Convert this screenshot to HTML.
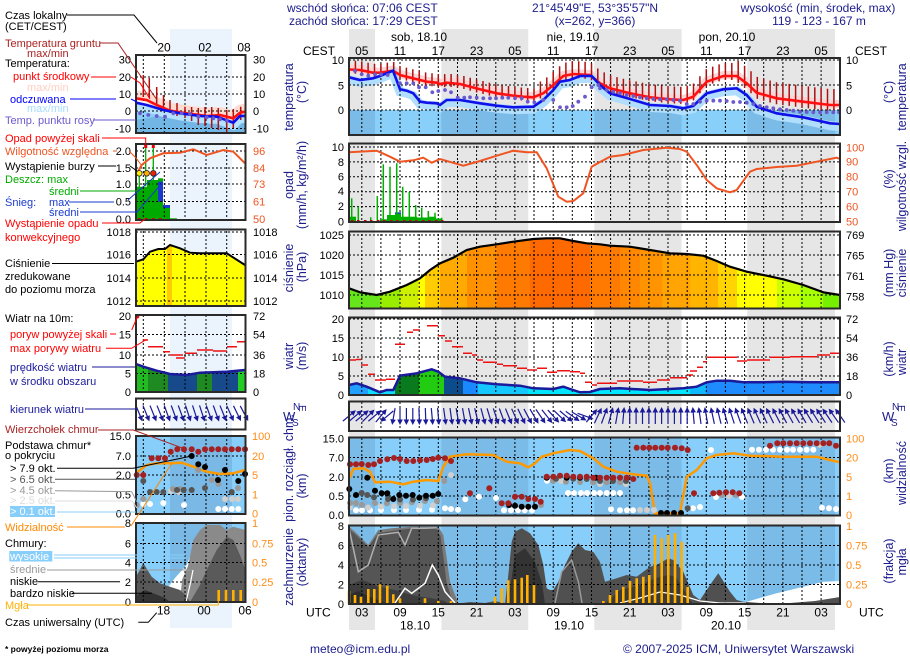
<!DOCTYPE html>
<html><head><meta charset="utf-8">
<style>
html,body{margin:0;padding:0;background:#fff;width:910px;height:660px;overflow:hidden}
svg{display:block}
text{font-family:"Liberation Sans",sans-serif}
.g{fill:none;stroke:#000;stroke-width:1;stroke-dasharray:2 2}
.tk{font-size:11px;fill:#000}
.fr{fill:none;stroke:#2a2a2a;stroke-width:2}
.nv{fill:#1c1c8c}
.lg{font-size:11px}
</style></head>
<body>
<svg xmlns="http://www.w3.org/2000/svg" width="910" height="660" viewBox="0 0 910 660">
<defs>
<clipPath id="cpP"><polygon points="349,288.3 360,292.3 376.7,295 390,291.7 406.7,285 420,278.3 430,270 440,263.3 453.3,257.7 466.7,250 480,246.7 496.7,244.3 513.3,241.7 533.3,239 546.7,238.3 560,238.3 573.3,241 586.7,243.3 600,244.3 610,245.7 630,246.7 650,250 670,253.3 686.7,254 703.3,255.7 716.7,261 730,266.7 746.7,271.7 766.7,275.7 783.3,279.3 803.3,285 823.3,292.3 840,295 840,308.5 349,308.5"/></clipPath>
<clipPath id="cpW"><polygon points="349,385 356.7,383.3 366.7,386.7 380,392.3 386.7,390 393.3,390 400,375.7 416.7,373.3 431.7,369.3 438.3,371.7 445,376.7 460,378.3 476.7,382.3 496.7,384.3 520,385.7 533.3,388.3 553.3,389 563.3,386.7 570,389 580,392.3 590,392 600,389 620,388.3 650,390 683.3,388.3 696.7,386.7 706.7,382.3 716.7,380.7 730,380.7 743.3,382.3 763.3,382.3 783.3,381.7 810,382.3 840,382.3 840,395 349,395"/></clipPath>
<clipPath id="cpMain">
<rect x="349" y="58" width="491" height="77"/><rect x="349" y="143.5" width="491" height="78.5"/><rect x="349" y="231.5" width="491" height="77"/><rect x="349" y="317.5" width="491" height="77.5"/><rect x="349" y="401.5" width="491" height="29.5"/><rect x="349" y="437.5" width="491" height="78"/><rect x="349" y="525.5" width="491" height="78.5"/>
</clipPath>
<clipPath id="cpMini">
<rect x="136" y="55" width="109.5" height="78"/><rect x="136" y="144" width="109.5" height="76"/><rect x="136" y="229.5" width="109.5" height="76.5"/><rect x="136" y="315" width="109.5" height="77"/><rect x="136" y="398.5" width="109.5" height="31"/><rect x="136" y="436" width="109.5" height="78"/><rect x="136" y="523" width="109.5" height="79"/>
</clipPath>
<clipPath id="cpMP"><polygon points="136,261.7 143.3,259.3 150,251.7 158.3,249 165,249 170,245 180,248.3 190,252.7 200,253.3 226.7,253.3 245.5,265 245.5,306 136,306"/></clipPath>
<clipPath id="cpMW"><polygon points="136,364 143.3,366.7 156.7,370.7 170,374 186.7,375 200,372.7 226.7,371.7 245.5,370 245.5,392 136,392"/></clipPath>
<g id="ar"><line x1="-8" y1="0" x2="5" y2="0" stroke="#1a1a9a" stroke-width="1.2"/><polygon points="9,0 3.5,-2.8 3.5,2.8" fill="#1a1a9a"/></g>
</defs>

<!-- night bands -->
<g fill="#e6e6e6">
<rect x="349" y="29" width="26" height="601"/>
<rect x="441.4" y="29" width="86.9" height="601"/>
<rect x="594.3" y="29" width="87.3" height="601"/>
<rect x="747.2" y="29" width="87.8" height="601"/>
</g>
<rect x="170" y="29" width="62" height="599" fill="#ebf3fc"/>

<!-- header -->
<text x="287" y="12" font-size="12" class="nv">wschód słońca: 07:06 CEST</text>
<text x="289" y="25" font-size="12" class="nv">zachód słońca: 17:29 CEST</text>
<text x="595" y="12" font-size="12" class="nv" text-anchor="middle">21°45'49"E, 53°35'57"N</text>
<text x="595" y="25" font-size="12" class="nv" text-anchor="middle">(x=262,  y=366)</text>
<text x="818" y="12" font-size="12" class="nv" text-anchor="middle">wysokość (min, środek, max)</text>
<text x="819" y="25" font-size="12" class="nv" text-anchor="middle">119 - 123 - 167 m</text>

<g font-size="12" text-anchor="middle" fill="#000">
<text x="419" y="41">sob, 18.10</text><text x="573" y="41">nie, 19.10</text><text x="727" y="41">pon, 20.10</text>
<text x="361.8" y="55">05</text><text x="400" y="55">11</text><text x="438.3" y="55">17</text><text x="476.6" y="55">23</text><text x="514.9" y="55">05</text><text x="553.2" y="55">11</text><text x="591.5" y="55">17</text><text x="629.7" y="55">23</text><text x="668" y="55">05</text><text x="706.3" y="55">11</text><text x="744.6" y="55">17</text><text x="782.9" y="55">23</text><text x="821.1" y="55">05</text>
<text x="361.8" y="616.5">03</text><text x="400" y="616.5">09</text><text x="438.3" y="616.5">15</text><text x="476.6" y="616.5">21</text><text x="514.9" y="616.5">03</text><text x="553.2" y="616.5">09</text><text x="591.5" y="616.5">15</text><text x="629.7" y="616.5">21</text><text x="668" y="616.5">03</text><text x="706.3" y="616.5">09</text><text x="744.6" y="616.5">15</text><text x="782.9" y="616.5">21</text><text x="821.1" y="616.5">03</text>
<text x="415" y="629.5">18.10</text><text x="569" y="629.5">19.10</text><text x="726" y="629.5">20.10</text>
</g>
<text x="303" y="55" font-size="12">CEST</text>
<text x="855" y="55" font-size="12">CEST</text>
<text x="306" y="616.5" font-size="12">UTC</text>
<text x="859" y="616.5" font-size="12">UTC</text>

<!-- ===== MAIN FILLS ===== -->
<rect x="349" y="110" width="491" height="25" fill="#88cffa"/>
<g fill="#7abbe8">
<rect x="349" y="110" width="26" height="25"/><rect x="441.4" y="110" width="86.9" height="25"/><rect x="594.3" y="110" width="87.3" height="25"/><rect x="747.2" y="110" width="87.8" height="25"/>
</g>
<polyline transform="translate(0,-1)" points="349,69.5 360,70 373,72.7 380,72.7 393,70.7 400,75 406.7,76.7 420,80 426.7,81.7 436.7,82.7 440,84 446.7,82.7 460,84 480,89.3 496.7,93.3 513.3,95.7 523.3,96.7 533.3,97.3 543.3,93.3 553.3,85 563.3,76 573.3,74 590,75 600,83.3 610,88.3 630,93.3 650,97.3 670,99.3 683.3,100 693.3,96.7 706.7,81.7 723.3,76 736.7,76 746.7,83.3 756.7,92.7 776.7,98.3 803.3,101.7 830,105 840,105" fill="none" stroke="#ffd4d4" stroke-width="8"/>
<polyline transform="translate(0,2.5)" points="349,77.3 360,80 373,78.3 380,76 393,70.7 400,89.3 406.7,90.7 413.3,93.3 420,101.7 426.7,102.7 436.7,103.3 440,105 446.7,100 460,100 480,103.3 496.7,105.7 513.3,107.3 533.3,106.7 543.3,100 553.3,90 560,81.7 570,80 580,76 591.7,76 600,85 610,93.3 630,99 650,105 670,106 683.3,108.3 693.3,106 706.7,93.3 723.3,89.3 736.7,88.3 746.7,95 756.7,106.7 776.7,113.3 803.3,117.3 830,123.3 840,124" fill="none" stroke="#b0defc" stroke-width="9"/>

<g clip-path="url(#cpP)">
<rect x="349" y="230" width="31" height="80" fill="#66e61a"/>
<rect x="380" y="230" width="20" height="80" fill="#99ee00"/>
<rect x="400" y="230" width="18" height="80" fill="#ccf000"/>
<rect x="418" y="230" width="7" height="80" fill="#ffff00"/>
<rect x="425" y="230" width="15" height="80" fill="#ffcc00"/>
<rect x="440" y="230" width="27" height="80" fill="#ffaa00"/>
<rect x="467" y="230" width="30" height="80" fill="#ff9000"/>
<rect x="497" y="230" width="33" height="80" fill="#ff7a00"/>
<rect x="530" y="230" width="60" height="80" fill="#ff6a00"/>
<rect x="590" y="230" width="30" height="80" fill="#ff7a00"/>
<rect x="620" y="230" width="20" height="80" fill="#ff8800"/>
<rect x="640" y="230" width="22" height="80" fill="#ff9400"/>
<rect x="662" y="230" width="28" height="80" fill="#ffa400"/>
<rect x="690" y="230" width="28" height="80" fill="#ffb400"/>
<rect x="718" y="230" width="19" height="80" fill="#ffd400"/>
<rect x="737" y="230" width="40" height="80" fill="#ffff00"/>
<rect x="777" y="230" width="23" height="80" fill="#ccff00"/>
<rect x="800" y="230" width="23" height="80" fill="#a8ff00"/>
<rect x="823" y="230" width="17" height="80" fill="#77f000"/>
</g>

<g clip-path="url(#cpW)">
<rect x="349" y="360" width="19" height="36" fill="#22a0ff"/>
<rect x="368" y="360" width="27" height="36" fill="#11ddff"/>
<rect x="395" y="360" width="24" height="36" fill="#0a7a1e"/>
<rect x="419" y="360" width="25" height="36" fill="#22cc11"/>
<rect x="444" y="360" width="19" height="36" fill="#0d4c8c"/>
<rect x="463" y="360" width="15" height="36" fill="#1a88ff"/>
<rect x="478" y="360" width="50" height="36" fill="#14c8ff"/>
<rect x="528" y="360" width="162" height="36" fill="#00e6ff"/>
<rect x="690" y="360" width="16" height="36" fill="#10b8ff"/>
<rect x="706" y="360" width="134" height="36" fill="#1e8cff"/>
</g>

<rect x="349" y="437.5" width="491" height="78" fill="#87cefa"/>
<g fill="#7abbe8">
<rect x="349" y="437.5" width="26" height="78"/><rect x="441.4" y="437.5" width="86.9" height="78"/><rect x="594.3" y="437.5" width="87.3" height="78"/><rect x="747.2" y="437.5" width="87.8" height="78"/>
</g>

<rect x="349" y="525.5" width="491" height="78.5" fill="#87cefa"/>
<g fill="#7abbe8">
<rect x="349" y="525.5" width="26" height="78.5"/><rect x="441.4" y="525.5" width="86.9" height="78.5"/><rect x="594.3" y="525.5" width="87.3" height="78.5"/><rect x="747.2" y="525.5" width="87.8" height="78.5"/>
</g>
<polygon points="746.7,604 746.7,601.7 776.7,593.3 803.3,586.7 823.3,581.7 840,581 840,604" fill="#fff"/>
<polygon points="349,526.7 355,531.7 368.3,545 378.3,530 391.7,528.3 411.7,526.7 438.3,526.7 443.3,535 446.7,558.3 450,581.7 455,595 459,604 349,604" fill="#7a7a7a"/>
<polygon points="349,529 355,534 368.3,547 378.3,533 391.7,531 411.7,528.5 436,528 440.5,536 443.5,558 446.5,582 451,597 454,604 349,604" fill="#555"/>
<polygon points="349,585 361.7,580 368,582 378.3,586.7 395,590 411.7,595 430,598 445,601 448,604 349,604" fill="#3d3d3d"/>
<polygon points="349,595 358,591 368,596 378,600 388,604 349,604" fill="#2c2c2c"/>
<polygon points="455,604 470,602 485,603 495,601 505,603 508,604" fill="#555"/>
<polygon points="505,604 508.3,575 511.7,541.7 515,531.7 521.7,528.3 530,533.3 538.3,545 543.3,565 546.7,588.3 550,590 553.3,590 558.3,581.7 565,565 571.7,551.7 578.3,543.3 585,550 593.3,551.7 600,562 605,581.7 616.7,578.3 626.7,575 636.7,576.7 650,566.7 656.7,565 668.3,558.3 673.3,560 683.3,571.7 693.3,595 700,600 710,585 718.3,573.3 730,591.7 736.7,600 743.3,601.7 760,603 790,603 815,601 840,597 840,604" fill="#505050"/>
<polygon points="508,604 512,575 515,555 525,548.3 535,561.7 541.7,581.7 545,604" fill="#333"/>
<polygon points="605,604 620,590 640,585 656,578 668,575 676,577 690,600 693,604" fill="#3a3a3a"/>

<!-- ===== MAIN GRID ===== -->
<g clip-path="url(#cpMain)">
<path class="g" d="M361.8 58V604M380.9 58V604M400 58V604M419.2 58V604M438.3 58V604M457.5 58V604M476.6 58V604M495.8 58V604M514.9 58V604M534 58V604M553.2 58V604M572.3 58V604M591.5 58V604M610.6 58V604M629.7 58V604M648.9 58V604M668 58V604M687.2 58V604M706.3 58V604M725.4 58V604M744.6 58V604M763.7 58V604M782.9 58V604M802 58V604M821.1 58V604"/>
</g>
<path class="g" d="M349 60H840M349 85H840M349 110H840M349 147H840M349 161.9H840M349 176.8H840M349 191.7H840M349 206.6H840M349 235H840M349 255H840M349 275H840M349 295H840M349 319H840M349 338H840M349 357H840M349 376H840M349 457.5H840M349 477H840M349 496H840M349 545.5H840M349 565H840M349 584.5H840"/>

<!-- ===== MAIN SERIES ===== -->
<path fill="none" stroke="#b01010" stroke-width="1.5" d="M355.4 60.8V73.8M361.8 61.4V74.4M368.1 62.7V75.7M374.5 63.7V76.7M380.9 63.6V76.6M387.3 62.6V75.6M393.7 62V75M400 66V79M406.4 67.6V80.6M412.8 69.2V82.2M419.2 70.8V83.8M425.6 72.4V85.4M432 73.2V86.2M438.3 74.3V87.3M444.7 74.1V87.1M451.1 74V87M457.5 74.7V87.7M463.9 76V89M470.2 77.7V90.7M476.6 79.5V92.5M483 81V94M489.4 82.6V95.6M495.8 84.1V97.1M502.1 85.1V98.1M508.5 86V99M514.9 86.8V99.8M521.3 87.5V100.5M527.7 88V101M534 88.1V101.1M540.4 81.5V98.5M546.8 77.4V94.4M553.2 72V89M559.6 66.3V83.3M565.9 62.5V79.5M572.3 61.1V78.1M578.7 61.3V78.3M585.1 61.7V78.7M591.5 63.2V80.2M597.8 68.5V85.5M604.2 72.4V89.4M610.6 75.5V92.5M617 77.1V94.1M623.4 78.7V95.7M629.7 80.2V97.2M636.1 81.5V98.5M642.5 82.8V99.8M648.9 84.1V101.1M655.3 84.8V101.8M661.6 85.5V102.5M668 86.1V103.1M674.4 86.5V103.5M680.8 86.9V103.9M687.2 85.8V102.8M693.5 83.5V100.5M699.9 76.3V93.3M706.3 69.1V86.1M712.7 66.6V83.6M719.1 64.4V81.4M725.4 63V80M731.8 63V80M738.2 61V83M744.6 65.8V87.8M751 71.3V93.3M757.3 76.9V98.9M763.7 78.7V100.7M770.1 80.5V102.5M776.5 82.3V104.3M782.9 83.1V105.1M789.2 83.9V105.9M795.6 84.7V106.7M802 85.5V107.5M808.4 86.4V108.4M814.8 87.2V109.2M821.1 88V110M827.5 88.7V110.7M833.9 89V111"/>
<polyline points="349,69.5 360,70 373,72.7 380,72.7 393,70.7 400,75 406.7,76.7 420,80 426.7,81.7 436.7,82.7 440,84 446.7,82.7 460,84 480,89.3 496.7,93.3 513.3,95.7 523.3,96.7 533.3,97.3 543.3,93.3 553.3,85 563.3,76 573.3,74 590,75 600,83.3 610,88.3 630,93.3 650,97.3 670,99.3 683.3,100 693.3,96.7 706.7,81.7 723.3,76 736.7,76 746.7,83.3 756.7,92.7 776.7,98.3 803.3,101.7 830,105 840,105" fill="none" stroke="#ff1010" stroke-width="2.6"/>
<polyline points="349,77.3 360,80 373,78.3 380,76 393,70.7 400,89.3 406.7,90.7 413.3,93.3 420,101.7 426.7,102.7 436.7,103.3 440,105 446.7,100 460,100 480,103.3 496.7,105.7 513.3,107.3 533.3,106.7 543.3,100 553.3,90 560,81.7 570,80 580,76 591.7,76 600,85 610,93.3 630,99 650,105 670,106 683.3,108.3 693.3,106 706.7,93.3 723.3,89.3 736.7,88.3 746.7,95 756.7,106.7 776.7,113.3 803.3,117.3 830,123.3 840,124" fill="none" stroke="#1010e8" stroke-width="2.6"/>
<g fill="#6a5acd">
<circle cx="355" cy="71" r="1.9"/><circle cx="361.7" cy="74.3" r="1.9"/><circle cx="368.3" cy="75.7" r="1.9"/><circle cx="375" cy="74.3" r="1.9"/><circle cx="381" cy="74.3" r="1.9"/><circle cx="387.7" cy="75" r="1.9"/><circle cx="400" cy="83.3" r="1.9"/><circle cx="406.7" cy="83.3" r="1.9"/><circle cx="413.3" cy="83.3" r="1.9"/><circle cx="419" cy="87.3" r="1.9"/><circle cx="425.7" cy="87.3" r="1.9"/><circle cx="432.3" cy="92.3" r="1.9"/><circle cx="438.3" cy="91" r="1.9"/><circle cx="445" cy="90" r="1.9"/><circle cx="451" cy="92.3" r="1.9"/><circle cx="457.7" cy="97.7" r="1.9"/><circle cx="464.3" cy="97.7" r="1.9"/><circle cx="470" cy="97.3" r="1.9"/><circle cx="476.7" cy="97.7" r="1.9"/><circle cx="483.3" cy="98.3" r="1.9"/><circle cx="490" cy="98.3" r="1.9"/><circle cx="496" cy="98.3" r="1.9"/><circle cx="502.3" cy="97.7" r="1.9"/><circle cx="508.3" cy="97.7" r="1.9"/><circle cx="515" cy="98.3" r="1.9"/><circle cx="521.7" cy="98.3" r="1.9"/><circle cx="527.7" cy="101.7" r="1.9"/><circle cx="534.3" cy="102.3" r="1.9"/><circle cx="543.3" cy="100" r="1.9"/><circle cx="553.3" cy="100" r="1.9"/><circle cx="560" cy="107.3" r="1.9"/><circle cx="566.7" cy="107.3" r="1.9"/><circle cx="572.7" cy="106" r="1.9"/><circle cx="578.3" cy="101.7" r="1.9"/><circle cx="585" cy="96.7" r="1.9"/><circle cx="591.7" cy="87.3" r="1.9"/><circle cx="598.3" cy="85" r="1.9"/>
<circle cx="600" cy="88.3" r="1.9"/><circle cx="606.7" cy="90" r="1.9"/><circle cx="613.3" cy="91.7" r="1.9"/><circle cx="620" cy="93.3" r="1.9"/><circle cx="626.7" cy="95" r="1.9"/><circle cx="633.3" cy="96" r="1.9"/><circle cx="640" cy="97.3" r="1.9"/><circle cx="646.7" cy="98.3" r="1.9"/><circle cx="653.3" cy="99" r="1.9"/><circle cx="660" cy="99.3" r="1.9"/><circle cx="666.7" cy="99.3" r="1.9"/><circle cx="673.3" cy="100" r="1.9"/><circle cx="680" cy="100.7" r="1.9"/><circle cx="686.7" cy="104" r="1.9"/><circle cx="693.3" cy="104" r="1.9"/><circle cx="700" cy="101.7" r="1.9"/><circle cx="706.7" cy="100.7" r="1.9"/><circle cx="713.3" cy="100.7" r="1.9"/><circle cx="720" cy="100.7" r="1.9"/><circle cx="726.7" cy="101" r="1.9"/><circle cx="733.3" cy="102" r="1.9"/><circle cx="740" cy="102" r="1.9"/><circle cx="746.7" cy="102.7" r="1.9"/><circle cx="753.3" cy="104" r="1.9"/><circle cx="760" cy="106" r="1.9"/><circle cx="766.7" cy="107.3" r="1.9"/><circle cx="773.3" cy="108.3" r="1.9"/><circle cx="780" cy="109.3" r="1.9"/><circle cx="786.7" cy="110" r="1.9"/><circle cx="793.3" cy="110.7" r="1.9"/><circle cx="800" cy="111.7" r="1.9"/><circle cx="806.7" cy="112" r="1.9"/><circle cx="813.3" cy="112.3" r="1.9"/><circle cx="820" cy="112.3" r="1.9"/><circle cx="826.7" cy="112.3" r="1.9"/><circle cx="833.3" cy="112.3" r="1.9"/><circle cx="839" cy="112.3" r="1.9"/>
</g>

<g fill="#00b000">
<rect x="349" y="216.7" width="7" height="5"/><rect x="380" y="219.3" width="7" height="2.5"/><rect x="387" y="215" width="8" height="7"/><rect x="395" y="213.3" width="6" height="8.5"/><rect x="401" y="216.7" width="16" height="5"/><rect x="417" y="217.5" width="11" height="4.5"/><rect x="428" y="216.7" width="8" height="5"/><rect x="436" y="218.5" width="5" height="3"/>
</g>
<rect x="395" y="212.3" width="6" height="1.6" fill="#2244cc"/>
<path fill="none" stroke="#00b000" stroke-width="1.5" d="M351.7 221.5V198.3M358.3 221.5V206.7M370.7 221.5V217.3M377.3 221.5V196M383.3 221.5V164.3M390 221.5V166.7M396.7 221.5V163.3M402.7 221.5V186.7M409.3 221.5V191.7M415.7 221.5V205M421.7 221.5V207.7M428.3 221.5V211M435 221.5V212.7M441.7 221.5V217.7"/>
<g fill="#cc0000">
<rect x="351" y="220" width="2.5" height="2.5"/><rect x="357" y="220" width="2.5" height="2.5"/><rect x="364" y="220" width="2.5" height="2.5"/><rect x="370" y="220" width="2.5" height="2.5"/><rect x="377" y="220" width="2.5" height="2.5"/><rect x="383" y="220" width="2.5" height="2.5"/><rect x="390" y="220" width="2.5" height="2.5"/><rect x="396" y="220" width="2.5" height="2.5"/><rect x="403" y="220" width="2.5" height="2.5"/><rect x="409" y="220" width="2.5" height="2.5"/><rect x="415" y="220" width="2.5" height="2.5"/><rect x="422" y="220" width="2.5" height="2.5"/><rect x="428" y="220" width="2.5" height="2.5"/><rect x="435" y="220" width="2.5" height="2.5"/><rect x="441" y="220" width="2.5" height="2.5"/>
</g>
<polyline points="349,152.3 376.7,150.7 390,156.7 400,161.7 413.3,160.3 423.3,157.7 431.7,162.7 440,159 463.3,165.7 480,161 496.7,155.7 513.3,150.7 526.7,152.3 536.7,152.3 546.7,168.3 558.3,196.7 566.7,201.7 573.3,201 583.3,193.3 591.7,166.7 600,162 610,156.7 623.3,155 643.3,150 666.7,147.7 680,149 686.7,151.7 696.7,165 706.7,180 716.7,188.3 730,192.3 736.7,190 750,171.7 756.7,169 776.7,167 796.7,165.7 816.7,161.7 836.7,157.7 840,159" fill="none" stroke="#ee5522" stroke-width="2"/>

<polyline points="349,288.3 360,292.3 376.7,295 390,291.7 406.7,285 420,278.3 430,270 440,263.3 453.3,257.7 466.7,250 480,246.7 496.7,244.3 513.3,241.7 533.3,239 546.7,238.3 560,238.3 573.3,241 586.7,243.3 600,244.3 610,245.7 630,246.7 650,250 670,253.3 686.7,254 703.3,255.7 716.7,261 730,266.7 746.7,271.7 766.7,275.7 783.3,279.3 803.3,285 823.3,292.3 840,295" fill="none" stroke="#000" stroke-width="2.2"/>

<path fill="none" stroke="#ee1111" stroke-width="1.5" d="M349 360H356M356 359.5H361M361 365H368M368 374.3H375M375 380H386M386 379.3H395M395 344.3H405M407 332.3H413M413 330H420M427 325.7H438M438 335.7H445M445 341H452M452 346.7H463M463 353.3H472M472 355H477M477 360H483M483 362.3H497M497 364.3H503M503 365.7H517M517 368.3H527M527 370H537M537 368.3H547M547 372.3H557M557 370.7H570M570 371.7H580M580 373.3H585M585 382.3H592M592 385H597M597 383.3H617M617 381H643M643 382.3H657M657 380H670M670 377.7H687M687 375H693M690 371H697M697 367.3H703M703 361.7H707M707 357.3H737M737 361H747M747 360H770M770 357.3H790M790 356.7H817M817 355H830M830 353.3H840"/>
<polyline points="349,385 356.7,383.3 366.7,386.7 380,392.3 386.7,390 393.3,390 400,375.7 416.7,373.3 431.7,369.3 438.3,371.7 445,376.7 460,378.3 476.7,382.3 496.7,384.3 520,385.7 533.3,388.3 553.3,389 563.3,386.7 570,389 580,392.3 590,392 600,389 620,388.3 650,390 683.3,388.3 696.7,386.7 706.7,382.3 716.7,380.7 730,380.7 743.3,382.3 763.3,382.3 783.3,381.7 810,382.3 840,382.3" fill="none" stroke="#1a1a9a" stroke-width="2.5"/>

<g>
<use href="#ar" transform="translate(349,416) rotate(-40)"/><use href="#ar" transform="translate(355.4,416) rotate(-40)"/><use href="#ar" transform="translate(361.8,416) rotate(-40)"/><use href="#ar" transform="translate(368.1,416) rotate(-45)"/><use href="#ar" transform="translate(374.5,416) rotate(-40)"/><use href="#ar" transform="translate(380.9,416) rotate(-50)"/><use href="#ar" transform="translate(387.3,416) rotate(140)"/><use href="#ar" transform="translate(393.7,416) rotate(100)"/><use href="#ar" transform="translate(400,416) rotate(90)"/><use href="#ar" transform="translate(406.4,416) rotate(90)"/><use href="#ar" transform="translate(412.8,416) rotate(90)"/><use href="#ar" transform="translate(419.2,416) rotate(88)"/><use href="#ar" transform="translate(425.6,416) rotate(88)"/><use href="#ar" transform="translate(432,416) rotate(85)"/><use href="#ar" transform="translate(438.3,416) rotate(85)"/><use href="#ar" transform="translate(444.7,416) rotate(82)"/><use href="#ar" transform="translate(451.1,416) rotate(82)"/><use href="#ar" transform="translate(457.5,416) rotate(80)"/><use href="#ar" transform="translate(463.9,416) rotate(80)"/><use href="#ar" transform="translate(470.2,416) rotate(78)"/><use href="#ar" transform="translate(476.6,416) rotate(76)"/><use href="#ar" transform="translate(483,416) rotate(75)"/><use href="#ar" transform="translate(489.4,416) rotate(73)"/><use href="#ar" transform="translate(495.8,416) rotate(72)"/><use href="#ar" transform="translate(502.1,416) rotate(70)"/><use href="#ar" transform="translate(508.5,416) rotate(68)"/><use href="#ar" transform="translate(514.9,416) rotate(66)"/><use href="#ar" transform="translate(521.3,416) rotate(64)"/><use href="#ar" transform="translate(527.7,416) rotate(62)"/><use href="#ar" transform="translate(534,416) rotate(60)"/><use href="#ar" transform="translate(540.4,416) rotate(56)"/><use href="#ar" transform="translate(546.8,416) rotate(52)"/><use href="#ar" transform="translate(553.2,416) rotate(48)"/><use href="#ar" transform="translate(559.6,416) rotate(44)"/><use href="#ar" transform="translate(565.9,416) rotate(40)"/><use href="#ar" transform="translate(572.3,416) rotate(35)"/><use href="#ar" transform="translate(578.7,416) rotate(30)"/><use href="#ar" transform="translate(585.1,416) rotate(20)"/><use href="#ar" transform="translate(591.5,416) rotate(-50)"/><use href="#ar" transform="translate(597.8,416) rotate(-65)"/><use href="#ar" transform="translate(604.2,416) rotate(-70)"/><use href="#ar" transform="translate(610.6,416) rotate(-75)"/><use href="#ar" transform="translate(617,416) rotate(-80)"/><use href="#ar" transform="translate(623.4,416) rotate(-85)"/><use href="#ar" transform="translate(629.7,416) rotate(-90)"/><use href="#ar" transform="translate(636.1,416) rotate(-90)"/><use href="#ar" transform="translate(642.5,416) rotate(-90)"/><use href="#ar" transform="translate(648.9,416) rotate(-90)"/><use href="#ar" transform="translate(655.3,416) rotate(-90)"/><use href="#ar" transform="translate(661.6,416) rotate(-90)"/><use href="#ar" transform="translate(668,416) rotate(-90)"/><use href="#ar" transform="translate(674.4,416) rotate(-90)"/><use href="#ar" transform="translate(680.8,416) rotate(-90)"/><use href="#ar" transform="translate(687.2,416) rotate(-90)"/><use href="#ar" transform="translate(693.5,416) rotate(-95)"/><use href="#ar" transform="translate(699.9,416) rotate(-98)"/><use href="#ar" transform="translate(706.3,416) rotate(-100)"/><use href="#ar" transform="translate(712.7,416) rotate(-102)"/><use href="#ar" transform="translate(719.1,416) rotate(-104)"/><use href="#ar" transform="translate(725.4,416) rotate(-106)"/><use href="#ar" transform="translate(731.8,416) rotate(-108)"/><use href="#ar" transform="translate(738.2,416) rotate(-110)"/><use href="#ar" transform="translate(744.6,416) rotate(-112)"/><use href="#ar" transform="translate(751,416) rotate(-113)"/><use href="#ar" transform="translate(757.3,416) rotate(-114)"/><use href="#ar" transform="translate(763.7,416) rotate(-115)"/><use href="#ar" transform="translate(770.1,416) rotate(-116)"/><use href="#ar" transform="translate(776.5,416) rotate(-117)"/><use href="#ar" transform="translate(782.9,416) rotate(-118)"/><use href="#ar" transform="translate(789.2,416) rotate(-119)"/><use href="#ar" transform="translate(795.6,416) rotate(-120)"/><use href="#ar" transform="translate(802,416) rotate(-120)"/><use href="#ar" transform="translate(808.4,416) rotate(-121)"/><use href="#ar" transform="translate(814.8,416) rotate(-122)"/><use href="#ar" transform="translate(821.1,416) rotate(-123)"/><use href="#ar" transform="translate(827.5,416) rotate(-124)"/><use href="#ar" transform="translate(833.9,416) rotate(-125)"/><use href="#ar" transform="translate(840.3,416) rotate(-125)"/>
</g>

<polyline points="349,479 353.3,469 363.3,468.3 370,471.7 375,482.3 390,481.7 403.3,484.3 413.3,481.7 426.7,480 438.3,481 443.3,466.7 450,456.7 466.7,454.3 493.3,455 506.7,461.7 520,463.3 528.3,467.3 535,463.3 541.7,456.7 553.3,453.3 570,450 580,451 593.3,458.3 603.3,466.7 616.7,471.7 633.3,474.3 646.7,475.7 650,483.3 655,513.3 680,513.3 686.7,476.7 696.7,470 706.7,458.3 716.7,455 733.3,453.3 750,455.7 783.3,456.7 816.7,456.7 830,460 840,462.3" fill="none" stroke="#ff9900" stroke-width="2.5"/>
<g fill="#fff">
<circle cx="356" cy="510.3" r="3"/><circle cx="362" cy="510.3" r="3"/><circle cx="370" cy="510.3" r="3"/><circle cx="381" cy="510" r="3"/><circle cx="394" cy="510" r="3"/><circle cx="406" cy="510" r="3"/><circle cx="419" cy="509.7" r="3"/><circle cx="432" cy="509.7" r="3"/><circle cx="445" cy="508.3" r="3"/><circle cx="451" cy="509" r="3"/><circle cx="458" cy="509.7" r="3"/><circle cx="465.3" cy="499.3" r="3"/><circle cx="479" cy="496.7" r="3"/><circle cx="496" cy="498" r="3"/><circle cx="504" cy="510.3" r="3"/><circle cx="511" cy="510.3" r="3"/><circle cx="518" cy="510.3" r="3"/><circle cx="524.7" cy="510.3" r="3"/><circle cx="532" cy="510.3" r="3"/><circle cx="547" cy="480.7" r="3"/><circle cx="568" cy="493" r="3"/><circle cx="574" cy="493" r="3"/><circle cx="581" cy="493" r="3"/><circle cx="587" cy="493" r="3"/><circle cx="594" cy="493" r="3"/><circle cx="600" cy="493" r="3"/><circle cx="606.7" cy="493" r="3"/><circle cx="613.3" cy="493" r="3"/><circle cx="620" cy="493" r="3"/><circle cx="611" cy="509.3" r="3"/><circle cx="620" cy="510.3" r="3"/><circle cx="627" cy="510.3" r="3"/><circle cx="633" cy="510.3" r="3"/><circle cx="693" cy="508.3" r="3"/><circle cx="700" cy="507" r="3"/><circle cx="711" cy="450" r="3"/><circle cx="716" cy="497" r="3"/><circle cx="742" cy="497" r="3"/><circle cx="752" cy="449.7" r="3"/><circle cx="759" cy="449.7" r="3"/><circle cx="766" cy="449.7" r="3"/><circle cx="773" cy="449.7" r="3"/><circle cx="780" cy="449.7" r="3"/><circle cx="787" cy="449.7" r="3"/><circle cx="793" cy="449.7" r="3"/><circle cx="800" cy="449.7" r="3"/><circle cx="806.7" cy="449.7" r="3"/><circle cx="813.3" cy="449.7" r="3"/><circle cx="822" cy="507.7" r="3"/><circle cx="829" cy="508.3" r="3"/><circle cx="836" cy="509" r="3"/>
</g>
<g fill="#cfcfcf">
<circle cx="350" cy="507.5" r="3"/><circle cx="368" cy="507.5" r="3"/><circle cx="381" cy="506.5" r="3"/><circle cx="394" cy="506.3" r="3"/><circle cx="406" cy="506" r="3"/><circle cx="420" cy="505.7" r="3"/><circle cx="433" cy="505.3" r="3"/><circle cx="451" cy="475" r="3"/><circle cx="640" cy="510" r="3"/><circle cx="647" cy="510" r="3"/><circle cx="654" cy="510" r="3"/><circle cx="561" cy="481" r="3"/><circle cx="600" cy="484" r="3"/><circle cx="626" cy="484" r="3"/><circle cx="820" cy="445" r="3"/><circle cx="729" cy="496" r="3"/>
</g>
<g fill="#999">
<circle cx="350" cy="503" r="3"/><circle cx="356" cy="503" r="3"/><circle cx="362" cy="505" r="3"/><circle cx="375" cy="503" r="3"/><circle cx="387" cy="503.3" r="3"/><circle cx="400" cy="503" r="3"/><circle cx="412" cy="502.3" r="3"/><circle cx="425" cy="501" r="3"/><circle cx="437" cy="501" r="3"/><circle cx="444.3" cy="481" r="3"/><circle cx="553" cy="481" r="3"/><circle cx="566" cy="481.7" r="3"/><circle cx="580" cy="482" r="3"/><circle cx="593" cy="482.3" r="3"/><circle cx="606.7" cy="482.3" r="3"/><circle cx="620" cy="482.3" r="3"/><circle cx="541" cy="505" r="3"/><circle cx="722" cy="495" r="3"/><circle cx="736" cy="495" r="3"/>
</g>
<g fill="#555">
<circle cx="361.7" cy="493" r="3"/><circle cx="367.3" cy="495" r="3"/><circle cx="374" cy="497.3" r="3"/><circle cx="388" cy="499" r="3"/><circle cx="400" cy="499.5" r="3"/><circle cx="413" cy="499.5" r="3"/><circle cx="426" cy="498.3" r="3"/><circle cx="556" cy="478.7" r="3"/><circle cx="573.3" cy="478.7" r="3"/><circle cx="586.7" cy="479" r="3"/><circle cx="600" cy="481" r="3"/><circle cx="613" cy="481" r="3"/><circle cx="626" cy="481" r="3"/><circle cx="687.7" cy="508.3" r="3"/>
</g>
<g fill="#000">
<circle cx="349.3" cy="489" r="3"/><circle cx="356" cy="495" r="3"/><circle cx="367.3" cy="477.7" r="3"/><circle cx="375" cy="490.7" r="3"/><circle cx="381.7" cy="493.3" r="3"/><circle cx="387.3" cy="493.3" r="3"/><circle cx="393.3" cy="499" r="3"/><circle cx="399.3" cy="495" r="3"/><circle cx="406" cy="495.7" r="3"/><circle cx="412.7" cy="495" r="3"/><circle cx="419.3" cy="497.7" r="3"/><circle cx="426" cy="495.7" r="3"/><circle cx="432.7" cy="495.7" r="3"/><circle cx="438.3" cy="494" r="3"/><circle cx="509" cy="505" r="3"/><circle cx="515" cy="505.7" r="3"/><circle cx="521.7" cy="506.7" r="3"/><circle cx="528.3" cy="506.7" r="3"/><circle cx="535" cy="506.7" r="3"/><circle cx="546.7" cy="477.7" r="3"/><circle cx="566.7" cy="477.7" r="3"/><circle cx="580" cy="477.7" r="3"/><circle cx="596" cy="477.7" r="3"/><circle cx="661" cy="513" r="3"/><circle cx="667" cy="513" r="3"/><circle cx="674" cy="513" r="3"/><circle cx="681" cy="513" r="3"/>
</g>
<g fill="#a52020">
<circle cx="350" cy="464.3" r="3"/><circle cx="356" cy="464.3" r="3"/><circle cx="361.7" cy="464" r="3"/><circle cx="368.3" cy="465" r="3"/><circle cx="374" cy="464.3" r="3"/><circle cx="380" cy="461" r="3"/><circle cx="387.3" cy="459.3" r="3"/><circle cx="394" cy="458" r="3"/><circle cx="400" cy="459" r="3"/><circle cx="406.7" cy="461" r="3"/><circle cx="413.3" cy="461" r="3"/><circle cx="420" cy="460.3" r="3"/><circle cx="426.7" cy="460" r="3"/><circle cx="432.7" cy="459" r="3"/><circle cx="438.3" cy="457.7" r="3"/><circle cx="445" cy="458.3" r="3"/><circle cx="451" cy="461" r="3"/>
<circle cx="470" cy="493.3" r="3"/><circle cx="489.3" cy="488.3" r="3"/><circle cx="501.7" cy="503.3" r="3"/><circle cx="508.3" cy="503.3" r="3"/><circle cx="515" cy="496.7" r="3"/><circle cx="521.7" cy="496.7" r="3"/><circle cx="528.3" cy="499" r="3"/><circle cx="535" cy="499" r="3"/><circle cx="540.7" cy="501.7" r="3"/>
<circle cx="546.7" cy="476.7" r="3"/><circle cx="553.3" cy="476.7" r="3"/><circle cx="560" cy="475.7" r="3"/><circle cx="566.7" cy="475.7" r="3"/><circle cx="573.3" cy="476.7" r="3"/><circle cx="580" cy="476.7" r="3"/><circle cx="586.7" cy="476.7" r="3"/><circle cx="593.3" cy="477.7" r="3"/><circle cx="600" cy="477.7" r="3"/><circle cx="606.7" cy="477.7" r="3"/><circle cx="613.3" cy="477.7" r="3"/><circle cx="620" cy="477.7" r="3"/><circle cx="626.7" cy="477.7" r="3"/><circle cx="633.3" cy="479" r="3"/>
<circle cx="636.7" cy="447.7" r="3"/><circle cx="643.3" cy="447.7" r="3"/><circle cx="649.3" cy="447.7" r="3"/><circle cx="655.3" cy="447.7" r="3"/><circle cx="661.7" cy="447.7" r="3"/><circle cx="667.7" cy="447.7" r="3"/><circle cx="675" cy="447.7" r="3"/><circle cx="681.7" cy="448.3" r="3"/><circle cx="687.7" cy="450" r="3"/>
<circle cx="694" cy="493.3" r="3"/><circle cx="713.3" cy="493.3" r="3"/><circle cx="719.3" cy="492.7" r="3"/><circle cx="726" cy="492.3" r="3"/><circle cx="732.7" cy="492.3" r="3"/><circle cx="739.3" cy="493.3" r="3"/>
<circle cx="770" cy="445.7" r="3"/><circle cx="777.3" cy="443.3" r="3"/><circle cx="783.3" cy="443.3" r="3"/><circle cx="790" cy="443.3" r="3"/><circle cx="796.7" cy="443.3" r="3"/><circle cx="803.3" cy="443.3" r="3"/><circle cx="810" cy="443.3" r="3"/><circle cx="816.7" cy="443.3" r="3"/><circle cx="823.3" cy="443.3" r="3"/><circle cx="829.3" cy="443.3" r="3"/><circle cx="836" cy="445.7" r="3"/>
</g>

<polyline points="349,528.3 358.3,571.7 368.3,565 378.3,535 398.3,532.3 405,545 411.7,528.3 425,528.3 436.7,527.7" fill="none" stroke="#b0b0b0" stroke-width="1.5"/>
<polyline points="555,603 561.7,571.7 571.7,560 578.3,581.7 582,603" fill="none" stroke="#999" stroke-width="1.5"/>
<polyline points="395,603 405,588.3 411.7,593.3 425,583.3 432.3,565 438.3,575 445,591.7 455,603" fill="none" stroke="#fff" stroke-width="1.5"/>
<polyline points="620,603 640,598 660,592 680,595 700,601 720,603 746,603" fill="none" stroke="#fff" stroke-width="1.2"/>
<path fill="none" stroke="#ffb000" stroke-width="2.6" d="M349 604V591M355 604V595M361 604V596.7M368.3 604V589M374.3 604V589M380 604V584.3M387.3 604V585.7M393.3 604V594.3M400 604V598.3M425 604V598.3M438.3 604V601M451 604V601M495 604V596.7M501.7 604V588.3M508.3 604V580.3M515 604V579.3M521.7 604V577.7M527.3 604V575M534 604V585M603.3 604V601M610 604V595M616.7 604V590M623.3 604V586.7M630 604V581M636.7 604V578.3M643.3 604V576.7M649.3 604V575M655 604V535M661.7 604V538.3M668.3 604V535M675 604V533.3M681.7 604V541.7M687.7 604V586.7"/>

<rect class="fr" x="349" y="58" width="491" height="77"/>
<rect class="fr" x="349" y="143.5" width="491" height="78.5"/>
<rect class="fr" x="349" y="231.5" width="491" height="77"/>
<rect class="fr" x="349" y="317.5" width="491" height="77.5"/>
<rect class="fr" x="349" y="401.5" width="491" height="29.5"/>
<rect class="fr" x="349" y="437.5" width="491" height="78"/>
<rect class="fr" x="349" y="525.5" width="491" height="78.5"/>

<g class="tk" text-anchor="end">
<text x="344" y="64">10</text><text x="344" y="89.5">5</text><text x="344" y="114">0</text>
<text x="344" y="151">10</text><text x="344" y="166">8</text><text x="344" y="180.5">6</text><text x="344" y="195">4</text><text x="344" y="210">2</text><text x="344" y="225.5">0</text>
<text x="344" y="239">1025</text><text x="344" y="259">1020</text><text x="344" y="279">1015</text><text x="344" y="299">1010</text>
<text x="344" y="323">20</text><text x="344" y="342">15</text><text x="344" y="361">10</text><text x="344" y="380">5</text><text x="344" y="399">0</text>
<text x="344" y="442.5">15.0</text><text x="344" y="461.5">7.0</text><text x="344" y="481">2.0</text><text x="344" y="500">0.5</text><text x="344" y="519">0.0</text>
<text x="344" y="530">8</text><text x="344" y="549.5">6</text><text x="344" y="569">4</text><text x="344" y="588.5">2</text><text x="344" y="608">0</text>
</g>
<g class="tk">
<text x="846" y="64">10</text><text x="846" y="89.5">5</text><text x="846" y="114">0</text>
<text x="846" y="239">769</text><text x="846" y="259.5">765</text><text x="846" y="280">761</text><text x="846" y="300.5">758</text>
<text x="846" y="323">72</text><text x="846" y="342">54</text><text x="846" y="361">36</text><text x="846" y="380">18</text><text x="846" y="399">0</text>
</g>
<g class="tk" style="fill:#ee5522">
<text x="846" y="151.5">100</text><text x="846" y="165.5">90</text><text x="846" y="180.5">80</text><text x="846" y="195.5">70</text><text x="846" y="210.5">60</text><text x="846" y="225.5">50</text>
</g>
<g class="tk" style="fill:#ff8c1a">
<text x="846" y="442.5">100</text><text x="846" y="461.5">20</text><text x="846" y="481">5</text><text x="846" y="500">1</text><text x="846" y="519">0</text>
<text x="846" y="530">1</text><text x="846" y="549.5">0.75</text><text x="846" y="569">0.5</text><text x="846" y="588.5">0.25</text><text x="846" y="608">0</text>
</g>

<g class="nv" font-size="12.5" text-anchor="middle">
<text transform="translate(293,97) rotate(-90)">temperatura</text>
<text transform="translate(306,92) rotate(-90)">(°C)</text>
<text transform="translate(293,185) rotate(-90)">opad</text>
<text transform="translate(306,185) rotate(-90)">(mm/h, kg/m²/h)</text>
<text transform="translate(293,268) rotate(-90)">ciśnienie</text>
<text transform="translate(306,267) rotate(-90)">(hPa)</text>
<text transform="translate(293,356) rotate(-90)">wiatr</text>
<text transform="translate(306,356) rotate(-90)">(m/s)</text>
<text transform="translate(293,468) rotate(-90)">pion. rozciągł. chm.</text>
<text transform="translate(293,567) rotate(-90)">zachmurzenie</text>
<text transform="translate(306,486) rotate(-90)">(km)</text>
<text transform="translate(306,562) rotate(-90)">(oktanty)</text>
<text transform="translate(893,92) rotate(-90)">(°C)</text>
<text transform="translate(906,97) rotate(-90)">temperatura</text>
<text transform="translate(893,179) rotate(-90)">(%)</text>
<text transform="translate(906,186) rotate(-90)">wilgotność wzgl.</text>
<text transform="translate(893,273) rotate(-90)">(mm Hg)</text>
<text transform="translate(906,273) rotate(-90)">ciśnienie</text>
<text transform="translate(893,359) rotate(-90)">(km/h)</text>
<text transform="translate(906,362) rotate(-90)">wiatr</text>
<text transform="translate(893,471) rotate(-90)">(km)</text>
<text transform="translate(906,473) rotate(-90)">widzialność</text>
<text transform="translate(893,561) rotate(-90)">(frakcja)</text>
<text transform="translate(906,562) rotate(-90)">mgła</text>
</g>
<g class="nv">
<text x="283" y="421" font-size="13">W</text><text x="293" y="410" font-size="10">N</text><text x="292" y="426" font-size="10">S</text><text transform="translate(299,405) rotate(90)" font-size="10">E</text>
<text x="882" y="421" font-size="13">W</text><text x="892" y="410" font-size="10">N</text><text x="891" y="426" font-size="10">S</text><text transform="translate(898,405) rotate(90)" font-size="10">E</text>
</g>

<text x="310" y="653" font-size="12" class="nv">meteo@icm.edu.pl</text>
<text x="623" y="653" font-size="12" class="nv">© 2007-2025 ICM, Uniwersytet Warszawski</text>

<!-- ===== LEFT MINI PANELS ===== -->
<rect x="136" y="111" width="109.5" height="22" fill="#87cefa"/>
<polygon points="136,120 160,116 185,119 210,124 245.5,122 245.5,133 136,133" fill="#72b6e6"/>
<polyline transform="translate(0,-3)" points="136,98.3 146.7,100 156.7,105 170,110.7 186.7,113.3 206.7,116 220,115 233.3,118.3 240,112.7 245,111.7" fill="none" stroke="#ffdcd2" stroke-width="10"/>
<polyline transform="translate(0,3)" points="136,102.7 146.7,105 163.3,110 180,113.3 200,116 216.7,116.7 233.3,122.7 240,116 245,116" fill="none" stroke="#b4e2ff" stroke-width="8"/>
<g fill="#00aa00">
<rect x="136" y="186.7" width="11" height="33.3"/><rect x="147" y="180" width="11" height="40"/><rect x="158" y="178.3" width="5" height="41.7"/><rect x="163" y="206" width="7" height="14"/><rect x="170" y="218.3" width="7" height="1.7"/>
</g>
<rect x="158" y="181.7" width="5" height="20" fill="#1a3acc"/>
<rect x="163" y="205" width="7" height="3" fill="#1a3acc"/>
<g clip-path="url(#cpMP)">
<rect x="136" y="240" width="110" height="70" fill="#ffff00"/>
<rect x="167" y="240" width="5" height="70" fill="#ffcc00"/>
</g>
<g clip-path="url(#cpMW)">
<rect x="136" y="360" width="12" height="33" fill="#22bb22"/>
<rect x="148" y="360" width="20" height="33" fill="#1f8a22"/>
<rect x="168" y="360" width="29" height="33" fill="#174a8a"/>
<rect x="197" y="360" width="15" height="33" fill="#1f8a22"/>
<rect x="212" y="360" width="26" height="33" fill="#174a8a"/>
<rect x="238" y="360" width="8" height="33" fill="#22cc22"/>
</g>
<rect x="136" y="436" width="109.5" height="78" fill="#87cefa"/>
<rect x="170" y="436" width="62" height="78" fill="#7ab9e6"/>
<rect x="136" y="523" width="109.5" height="79" fill="#87cefa"/>
<rect x="170" y="523" width="62" height="79" fill="#7ab9e6"/>
<polygon points="160,602 166,590 175,578 186.7,565 193.3,548 200,538 210,534 245.5,534 245.5,602" fill="#fff"/>
<polygon points="180,602 182,580 188,566 193.3,540 200,530 206.7,525 220,525 226.7,530 233.3,526.7 245.5,530 245.5,602" fill="#8a8a8a"/>
<polygon points="136,576.7 143.3,563.3 151.7,576.7 160,583.3 170,586.7 180,590 186.7,596 190,602 136,602" fill="#585858"/>
<polygon points="190,602 200,585 206.7,570 216.7,550 226.7,536.7 233.3,540 240,555 245.5,570 245.5,602" fill="#5a5a5a"/>
<polygon points="136,596 145,590 155,594 165,598 170,602 136,602" fill="#333"/>

<g clip-path="url(#cpMini)">
<path class="g" d="M143.3 55V602M164.3 55V602M185 55V602M206 55V602M226.7 55V602"/>
</g>
<path class="g" d="M136 77H245.5M136 94H245.5M136 111H245.5M136 128.5H245.5M136 151H245.5M136 168H245.5M136 184H245.5M136 201.5H245.5M136 232H245.5M136 254.5H245.5M136 278H245.5M136 301H245.5M136 334.5H245.5M136 355H245.5M136 373.5H245.5M136 456H245.5M136 475H245.5M136 494.5H245.5M136 543.5H245.5M136 562.5H245.5M136 582H245.5"/>

<path fill="none" stroke="#b01010" stroke-width="1.5" d="M143.3 75V97M149.3 78V98M156.7 87V106M163.5 95V110M170 100V113M177 103V116M185 106.7V118M191.6 107V121M198.3 108V125M205 107V126M211.7 107V128M218.3 108V130M226.7 110V131.7M233.3 109V128M240.7 106.7V120"/>
<polyline points="136,98.3 146.7,100 156.7,105 170,110.7 186.7,113.3 206.7,116 220,115 233.3,118.3 240,112.7 245,111.7" fill="none" stroke="#ff1010" stroke-width="2.6"/>
<polyline points="136,102.7 146.7,105 163.3,110 180,113.3 200,116 216.7,116.7 233.3,122.7 240,116 245,116" fill="none" stroke="#1010e8" stroke-width="2.6"/>
<g fill="#6a5acd">
<circle cx="140" cy="113.3" r="1.9"/><circle cx="148.3" cy="115" r="1.9"/><circle cx="156.7" cy="116" r="1.9"/><circle cx="165" cy="116.7" r="1.9"/><circle cx="173.3" cy="113.3" r="1.9"/><circle cx="181.7" cy="113.3" r="1.9"/><circle cx="190" cy="114" r="1.9"/><circle cx="198.3" cy="116.7" r="1.9"/><circle cx="206.7" cy="117.3" r="1.9"/><circle cx="213.3" cy="118.3" r="1.9"/><circle cx="220" cy="119.3" r="1.9"/><circle cx="226.7" cy="120.7" r="1.9"/>
</g>
<path fill="none" stroke="#00aa00" stroke-width="1.3" d="M139.3 173V187M145.7 147V186M153.3 147V186"/>
<polyline points="136,175 141.7,165 150,158.3 163.3,153.3 180,152.7 193.3,149.3 206.7,155 223.3,150 233.3,151.7 245,163.3" fill="none" stroke="#ee5522" stroke-width="2"/>
<rect x="144.2" y="145" width="3" height="3" fill="#ee0000"/><rect x="151.8" y="145" width="3" height="3" fill="#ee0000"/>
<circle cx="139.3" cy="173.3" r="2.8" fill="#ffee00" stroke="#222" stroke-width="0.8"/>
<circle cx="146.7" cy="173.3" r="2.8" fill="#ffaa00" stroke="#222" stroke-width="0.8"/>
<circle cx="153.3" cy="173.3" r="2.8" fill="#ee2200" stroke="#222" stroke-width="0.8"/>
<g fill="#cc0000"><rect x="138" y="218" width="2.5" height="2.5"/><rect x="145" y="218" width="2.5" height="2.5"/><rect x="152" y="218" width="2.5" height="2.5"/><rect x="159" y="218" width="2.5" height="2.5"/></g>
<polyline points="136,261.7 143.3,259.3 150,251.7 158.3,249 165,249 170,245 180,248.3 190,252.7 200,253.3 226.7,253.3 245,265" fill="none" stroke="#000" stroke-width="2"/>
<path fill="none" stroke="#ee1111" stroke-width="1.5" d="M143 340H148M148 346.7H163M163 351.7H170M170 355H183M176 358H185M185 353.3H197M197 350H213M213 351H227M227 346.7H237M237 341.7H245"/>
<circle cx="137.3" cy="316.5" r="2" fill="#ee1111"/>
<polyline points="136,364 143.3,366.7 156.7,370.7 170,374 186.7,375 200,372.7 226.7,371.7 245,370" fill="none" stroke="#1a1a9a" stroke-width="2.5"/>
<g>
<use href="#ar" transform="translate(139,413) rotate(68)"/><use href="#ar" transform="translate(146,413) rotate(68)"/><use href="#ar" transform="translate(153,413) rotate(68)"/><use href="#ar" transform="translate(160,413) rotate(68)"/><use href="#ar" transform="translate(167,413) rotate(70)"/><use href="#ar" transform="translate(174,413) rotate(70)"/><use href="#ar" transform="translate(181,413) rotate(70)"/><use href="#ar" transform="translate(188,413) rotate(72)"/><use href="#ar" transform="translate(195,413) rotate(72)"/><use href="#ar" transform="translate(202,413) rotate(72)"/><use href="#ar" transform="translate(209,413) rotate(70)"/><use href="#ar" transform="translate(216,413) rotate(70)"/><use href="#ar" transform="translate(223,413) rotate(68)"/><use href="#ar" transform="translate(230,413) rotate(66)"/><use href="#ar" transform="translate(237,413) rotate(64)"/><use href="#ar" transform="translate(244,413) rotate(62)"/>
</g>
<polyline points="136,473.3 146.7,465 156.7,463.3 170,463.3 181.7,462.7 193.3,466.7 206.7,471.7 220,474 233.3,473.3 245,470" fill="none" stroke="#ff9900" stroke-width="2.5"/>
<g fill="#fff"><circle cx="143.3" cy="504" r="3"/><circle cx="150" cy="504" r="3"/><circle cx="163.3" cy="503" r="3"/><circle cx="184" cy="505" r="3"/><circle cx="218.3" cy="509" r="3"/><circle cx="225" cy="509" r="3"/><circle cx="231.7" cy="509" r="3"/><circle cx="238.3" cy="509" r="3"/></g>
<g fill="#cfcfcf"><circle cx="171" cy="491" r="3"/><circle cx="178" cy="492" r="3"/><circle cx="225" cy="499" r="3"/><circle cx="232" cy="499" r="3"/><circle cx="238" cy="499" r="3"/></g>
<g fill="#999"><circle cx="136.7" cy="505" r="3"/><circle cx="143.3" cy="499" r="3"/><circle cx="173" cy="489" r="3"/><circle cx="180" cy="489" r="3"/><circle cx="198.3" cy="470" r="3"/><circle cx="211.7" cy="480" r="3"/><circle cx="218.3" cy="484" r="3"/><circle cx="238" cy="488" r="3"/></g>
<g fill="#555"><circle cx="143.3" cy="481" r="3"/><circle cx="150" cy="492" r="3"/><circle cx="156.7" cy="492" r="3"/><circle cx="163.3" cy="492" r="3"/><circle cx="177" cy="490" r="3"/><circle cx="183.7" cy="490" r="3"/><circle cx="191.7" cy="490" r="3"/><circle cx="205" cy="488" r="3"/><circle cx="231.7" cy="492" r="3"/></g>
<g fill="#000"><circle cx="191.7" cy="456" r="3"/><circle cx="198.3" cy="464.3" r="3"/><circle cx="205" cy="467" r="3"/><circle cx="225" cy="470" r="3"/><circle cx="218" cy="480" r="3"/><circle cx="238.3" cy="481" r="3"/><circle cx="245" cy="474" r="3"/></g>
<g fill="#a52020"><circle cx="136.7" cy="475" r="3"/><circle cx="143.3" cy="475" r="3"/><circle cx="151.7" cy="458.3" r="3"/><circle cx="158.3" cy="458.3" r="3"/><circle cx="165" cy="458.3" r="3"/><circle cx="170.7" cy="451.7" r="3"/><circle cx="177.3" cy="449.3" r="3"/><circle cx="184" cy="449.3" r="3"/><circle cx="191.7" cy="449.3" r="3"/><circle cx="198.3" cy="451.7" r="3"/><circle cx="205" cy="449.3" r="3"/><circle cx="211.7" cy="449.3" r="3"/><circle cx="218.3" cy="449.3" r="3"/><circle cx="225" cy="449.3" r="3"/><circle cx="231.7" cy="449.3" r="3"/><circle cx="238.3" cy="449.3" r="3"/><circle cx="245" cy="449.3" r="3"/></g>
<polyline points="186,602 190,585 193,570" fill="none" stroke="#fff" stroke-width="1.2"/>
<path fill="none" stroke="#ffb000" stroke-width="2.6" d="M218.7 602V590M226 602V590M233.3 602V590M240.7 602V590"/>

<rect class="fr" x="136" y="55" width="109.5" height="78" stroke-width="1.6"/>
<rect class="fr" x="136" y="144" width="109.5" height="76" stroke-width="1.6"/>
<rect class="fr" x="136" y="229.5" width="109.5" height="76.5" stroke-width="1.6"/>
<rect class="fr" x="136" y="315" width="109.5" height="77" stroke-width="1.6"/>
<rect class="fr" x="136" y="398.5" width="109.5" height="31" stroke-width="1.6"/>
<rect class="fr" x="136" y="436" width="109.5" height="78" stroke-width="1.6"/>
<rect class="fr" x="136" y="523" width="109.5" height="79" stroke-width="1.6"/>

<g font-size="12" text-anchor="middle">
<text x="164" y="51.5">20</text><text x="205" y="51.5">02</text><text x="244" y="51.5">08</text>
<text x="163.5" y="614.5">18</text><text x="204" y="614.5">00</text><text x="245" y="614.5">06</text>
</g>
<g class="tk" text-anchor="end">
<text x="131" y="63.5">30</text><text x="131" y="81">20</text><text x="131" y="98">10</text><text x="131" y="115">0</text><text x="131" y="132.5">-10</text>
<text x="131" y="155">2.0</text><text x="131" y="172">1.5</text><text x="131" y="188">1.0</text><text x="131" y="205.5">0.5</text><text x="131" y="223">0.0</text>
<text x="131" y="236">1018</text><text x="131" y="258.5">1016</text><text x="131" y="282">1014</text><text x="131" y="305">1012</text>
<text x="131" y="320">20</text><text x="131" y="338.5">15</text><text x="131" y="359">10</text><text x="131" y="377.5">5</text><text x="131" y="396">0</text>
<text x="131" y="440">15.0</text><text x="131" y="460">7.0</text><text x="131" y="479">2.0</text><text x="131" y="498.5">0.5</text><text x="131" y="517.5">0.0</text>
<text x="131" y="527">8</text><text x="131" y="547.5">6</text><text x="131" y="566.5">4</text><text x="131" y="586">2</text><text x="131" y="606">0</text>
</g>
<g class="tk">
<text x="253" y="63.5">30</text><text x="253" y="81">20</text><text x="253" y="98">10</text><text x="253" y="115">0</text><text x="253" y="132.5">-10</text>
<text x="253" y="236">1018</text><text x="253" y="258.5">1016</text><text x="253" y="282">1014</text><text x="253" y="305">1012</text>
<text x="253" y="320">72</text><text x="253" y="338.5">54</text><text x="253" y="359">36</text><text x="253" y="377.5">18</text><text x="253" y="396">0</text>
</g>
<g class="tk" style="fill:#ee5522">
<text x="253" y="155">96</text><text x="253" y="172">84</text><text x="253" y="188">73</text><text x="253" y="205.5">61</text><text x="253" y="223">50</text>
</g>
<g class="tk" style="fill:#ff8c1a">
<text x="252" y="440">100</text><text x="252" y="460">20</text><text x="252" y="479">5</text><text x="252" y="498.5">1</text><text x="252" y="517.5">0</text>
<text x="252" y="527">1</text><text x="252" y="547.5">0.75</text><text x="252" y="566.5">0.5</text><text x="252" y="586">0.25</text><text x="252" y="606">0</text>
</g>

<g fill="none" stroke-width="1">
<polyline points="67,15 134,15 157,43" stroke="#000"/>
<polyline points="100,43 118,43 157,100" stroke="#aa2222"/>
<polyline points="91,77 116,77" stroke="#ff0000"/>
<polyline points="131,77 140,83 150,99" stroke="#ff0000"/>
<polyline points="70,99 116,99" stroke="#0000ff"/>
<polyline points="131,99 137,102" stroke="#0000ff"/>
<polyline points="94,120 136,120" stroke="#6a5acd"/>
<polyline points="102,138 145.7,138 145.7,145" stroke="#ff0000"/>
<polyline points="113,151 117,151" stroke="#ee5522"/>
<polyline points="129,151 136,158 142,166" stroke="#ee5522"/>
<polyline points="98,166 116,166" stroke="#000"/>
<polyline points="130,166 137,171" stroke="#000"/>
<polyline points="80,191 137,191" stroke="#00aa00"/>
<polyline points="69,202 114,202" stroke="#1a3acc"/>
<polyline points="128,200 160,172" stroke="#1a3acc"/>
<polyline points="80,212 137,212 163,182" stroke="#1a3acc"/>
<polyline points="102,223 140,223 146,218" stroke="#ff0000"/>
<polyline points="52,263.5 134,263.5" stroke="#000"/>
<polyline points="110,334 116,334" stroke="#ff0000"/>
<polyline points="131.7,330 137.3,317" stroke="#ff0000"/>
<polyline points="106,348.3 131.7,348.3 146.7,339.3" stroke="#ff0000"/>
<polyline points="92,367 135,367" stroke="#1a1a9a"/>
<polyline points="85,409 137,409" stroke="#1a1a9a"/>
<polyline points="98,430 133.3,430 183.3,448.3" stroke="#aa2222"/>
<polyline points="57,468.3 133.3,468.3 191.7,456" stroke="#000"/>
<polyline points="55,479.3 135,479.3" stroke="#555"/>
<polyline points="55,490.7 131.7,491.7 136.7,501.7" stroke="#999"/>
<polyline points="55,501 132,501 137,508" stroke="#ddd"/>
<polyline points="57,512 136,512" stroke="#87cefa"/>
<polyline points="67,527 125,527" stroke="#ff8800"/>
<polyline points="131,526 172,463" stroke="#ff8800"/>
<polyline points="54,555 185,555" stroke="#87cefa"/>
<polyline points="54,558 185,558" stroke="#87cefa"/>
<polyline points="47,570 191.7,570" stroke="#999"/>
<polyline points="38,581.7 120,581.7" stroke="#000"/>
<polyline points="72,593.3 152,593.3" stroke="#000"/>
<polyline points="27,605 218.3,605 218.3,592" stroke="#ffb000"/>
<polyline points="138.3,622.3 148.3,622.3 156.7,612.7" stroke="#000"/>
</g>

<rect x="10" y="506" width="45" height="11" fill="#87cefa"/>
<rect x="9.3" y="551" width="43" height="10.5" fill="#87cefa"/>
<g class="lg">
<text x="5" y="19" fill="#000">Czas lokalny</text>
<text x="5" y="30" fill="#000">(CET/CEST)</text>
<text x="5" y="47" fill="#aa2222">Temperatura gruntu</text>
<text x="27" y="57" fill="#aa2222">max/min</text>
<text x="5" y="67" fill="#000">Temperatura:</text>
<text x="13" y="80" fill="#ff0000">punkt środkowy</text>
<text x="27" y="91" fill="#ffcfc4">max/min</text>
<text x="10" y="103" fill="#0000ff">odczuwana</text>
<text x="27" y="112" fill="#a8dcff">max/min</text>
<text x="5" y="124" fill="#6a5acd">Temp. punktu rosy</text>
<text x="5" y="142" fill="#ff0000">Opad powyżej skali</text>
<text x="5" y="155" fill="#ee5522">Wilgotność względna</text>
<text x="5" y="170" fill="#000">Wystąpienie burzy</text>
<text x="5" y="183" fill="#00aa00">Deszcz: max</text>
<text x="49" y="195" fill="#00aa00">średni</text>
<text x="5" y="206" fill="#1a3acc">Śnieg:</text>
<text x="49" y="206" fill="#1a3acc">max</text>
<text x="49" y="216" fill="#1a3acc">średni</text>
<text x="5" y="227" fill="#ff0000">Wystąpienie opadu</text>
<text x="5" y="241" fill="#ff0000">konwekcyjnego</text>
<text x="5" y="267" fill="#000">Ciśnienie</text>
<text x="5" y="280" fill="#000">zredukowane</text>
<text x="5" y="293" fill="#000">do poziomu morza</text>
<text x="5" y="322" fill="#000">Wiatr na 10m:</text>
<text x="10" y="338" fill="#ff0000">poryw powyżej skali</text>
<text x="10" y="352" fill="#ff0000">max porywy wiatru</text>
<text x="10" y="371" fill="#1a1a9a">prędkość wiatru</text>
<text x="10" y="385" fill="#1a1a9a">w środku obszaru</text>
<text x="10" y="413" fill="#1a1a9a">kierunek wiatru</text>
<text x="5" y="433" fill="#aa2222">Wierzchołek chmur</text>
<text x="5" y="449" fill="#000">Podstawa chmur*</text>
<text x="5" y="459" fill="#000">o pokryciu</text>
<text x="10" y="472" fill="#000">&gt; 7.9 okt.</text>
<text x="10" y="483" fill="#555">&gt; 6.5 okt.</text>
<text x="10" y="494" fill="#999">&gt; 4.5 okt.</text>
<text x="10" y="504" fill="#ddd">&gt; 2.5 okt.</text>
<text x="10" y="515" fill="#fff">&gt; 0.1 okt.</text>
<text x="5" y="531" fill="#ff8800">Widzialność</text>
<text x="5" y="547" fill="#000">Chmury:</text>
<text x="10" y="560" fill="#fff">wysokie</text>
<text x="10" y="573" fill="#999">średnie</text>
<text x="10" y="585" fill="#000">niskie</text>
<text x="10" y="597" fill="#000">bardzo niskie</text>
<text x="5" y="609" fill="#ffb000">Mgła</text>
<text x="5" y="626" fill="#000">Czas uniwersalny (UTC)</text>
</g>
<text x="5" y="652" font-size="8.5" font-weight="bold" fill="#000">* powyżej poziomu morza</text>
</svg>
</body></html>
